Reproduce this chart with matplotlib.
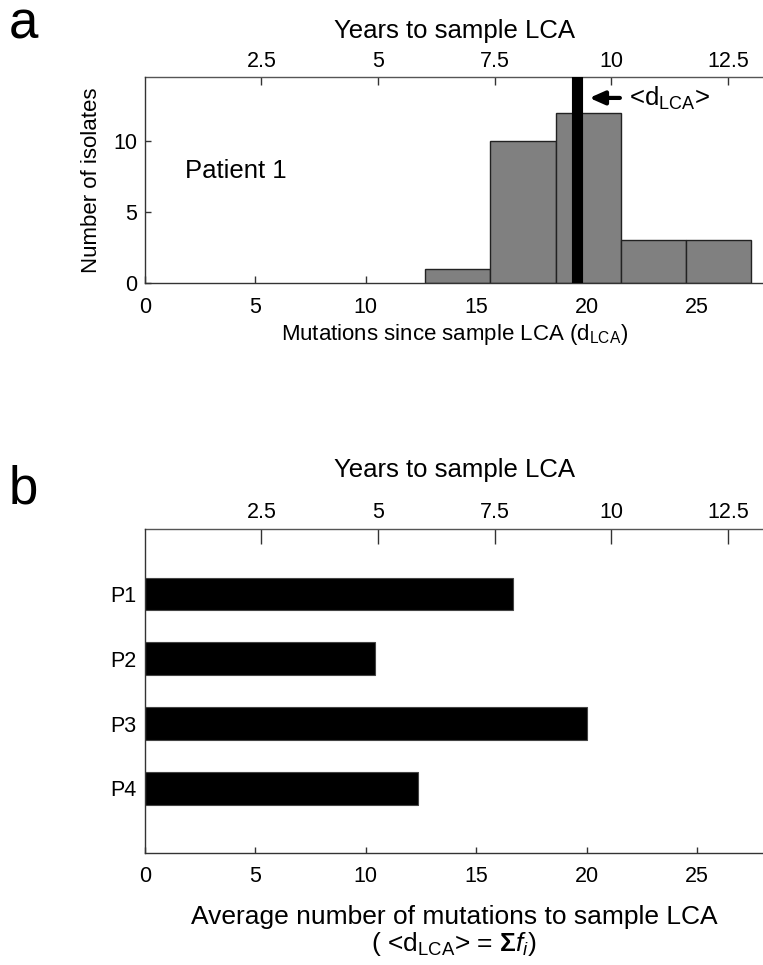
import matplotlib
matplotlib.use("Agg")
import matplotlib.pyplot as plt

plt.rcParams['font.family'] = ['Liberation Sans', 'DejaVu Sans']
plt.rcParams['mathtext.fontset'] = 'custom'
plt.rcParams['mathtext.rm'] = 'Liberation Sans'
plt.rcParams['mathtext.it'] = 'Liberation Sans:italic'
plt.rcParams['mathtext.bf'] = 'Liberation Sans:bold'

# panel a: histogram of distances to the sample LCA (patient 1)
bin_centers = [14.17, 17.12, 20.07, 23.02, 25.97]
bin_counts = [1, 10, 12, 3, 3]
bin_width = 2.95
mean_dlca = 19.58

# panel b: average distance per patient
patients = ['P1', 'P2', 'P3', 'P4']
avg_dlca = [16.67, 10.43, 20.02, 12.35]

# conversion mutations -> years
mut_per_year = 2.112
mut_ticks = [0, 5, 10, 15, 20, 25]
year_ticks = [2.5, 5, 7.5, 10, 12.5]
year_labels = ['2.5', '5', '7.5', '10', '12.5']
count_ticks = [0, 5, 10]

spine_col = '#333333'
tick_fs = 15.5
label_fs = 16


def style_axes(ax):
    for s in ['top', 'right']:
        ax.spines[s].set_visible(False)
    for s in ['left', 'bottom']:
        ax.spines[s].set_color(spine_col)
        ax.spines[s].set_linewidth(1.0)
    ax.tick_params(direction='in', colors=spine_col, labelcolor='black',
                   labelsize=tick_fs, width=1.0)


def add_years_axis(ax, ticklen, pad):
    sec = ax.secondary_xaxis('top', functions=(lambda m: m / mut_per_year,
                                               lambda y: y * mut_per_year))
    sec.set_xticks(year_ticks)
    sec.set_xticklabels(year_labels)
    sec.spines['top'].set_color('#555555')
    sec.spines['top'].set_linewidth(1.0)
    sec.tick_params(direction='in', length=ticklen, width=1.0, colors=spine_col,
                    labelcolor='black', labelsize=tick_fs, pad=4)
    sec.set_xlabel('Years to sample LCA', fontsize=18.5, labelpad=pad)
    return sec


fig = plt.figure(figsize=(7.63, 9.65), dpi=100)

# ---- panel a
ax1 = fig.add_axes([0.1897, 0.7070, 0.811, 0.2128])
ax1.bar(bin_centers, bin_counts, width=bin_width, color='#808080',
        edgecolor='#222222', linewidth=1.0, zorder=2)
ax1.axvline(mean_dlca, color='black', lw=8, zorder=3)
ax1.set_xlim(0, 28)
ax1.set_ylim(0, 14.5)
style_axes(ax1)
ax1.set_xticks(mut_ticks)
ax1.set_yticks(count_ticks)
ax1.tick_params(axis='x', length=5, pad=10)
ax1.tick_params(axis='y', length=4.5, pad=5.5)
ax1.set_xlabel(r'Mutations since sample LCA (d$_{\mathrm{LCA}}$)',
               fontsize=label_fs, labelpad=3)
ax1.set_ylabel('Number of isolates', fontsize=label_fs, labelpad=8)
add_years_axis(ax1, 6, 9)

ax1.text(1.8, 7.37, 'Patient 1', fontsize=18.5, va='baseline', ha='left')
ax1.annotate('', xy=(20.12, 13.05), xytext=(21.5, 13.05),
             arrowprops=dict(arrowstyle='-|>,head_length=0.45,head_width=0.2',
                             lw=3, color='black', mutation_scale=20,
                             shrinkA=0, shrinkB=0))
ax1.text(21.9, 13.05, r'<d$_{\mathrm{LCA}}$>', fontsize=18.5,
         va='center', ha='left')

# ---- panel b
ax2 = fig.add_axes([0.1897, 0.1158, 0.811, 0.3360])
ypos = list(range(1, len(patients) + 1))
ax2.barh(ypos, avg_dlca, height=0.5, color='black', edgecolor='#444444',
         linewidth=0.8, zorder=2)
ax2.set_xlim(0, 28)
ax2.set_ylim(5, 0)
style_axes(ax2)
ax2.set_xticks(mut_ticks)
ax2.set_yticks(ypos)
ax2.set_yticklabels(patients)
ax2.tick_params(axis='x', length=4.5, pad=9)
ax2.tick_params(axis='y', length=0, pad=6)
ax2.set_xlabel('Average number of mutations to sample LCA\n'
               r'( <d$_{\mathrm{LCA}}$> = $\mathbf{\Sigma}$$f_i$)',
               fontsize=19, labelpad=13, linespacing=1.05)
add_years_axis(ax2, 11, 18.5)

# panel letters
fig.text(0.012, 0.9596, 'a', fontsize=38, va='baseline', ha='left')
fig.text(0.012, 0.4787, 'b', fontsize=38, va='baseline', ha='left')

fig.savefig('out.png', dpi=100)
